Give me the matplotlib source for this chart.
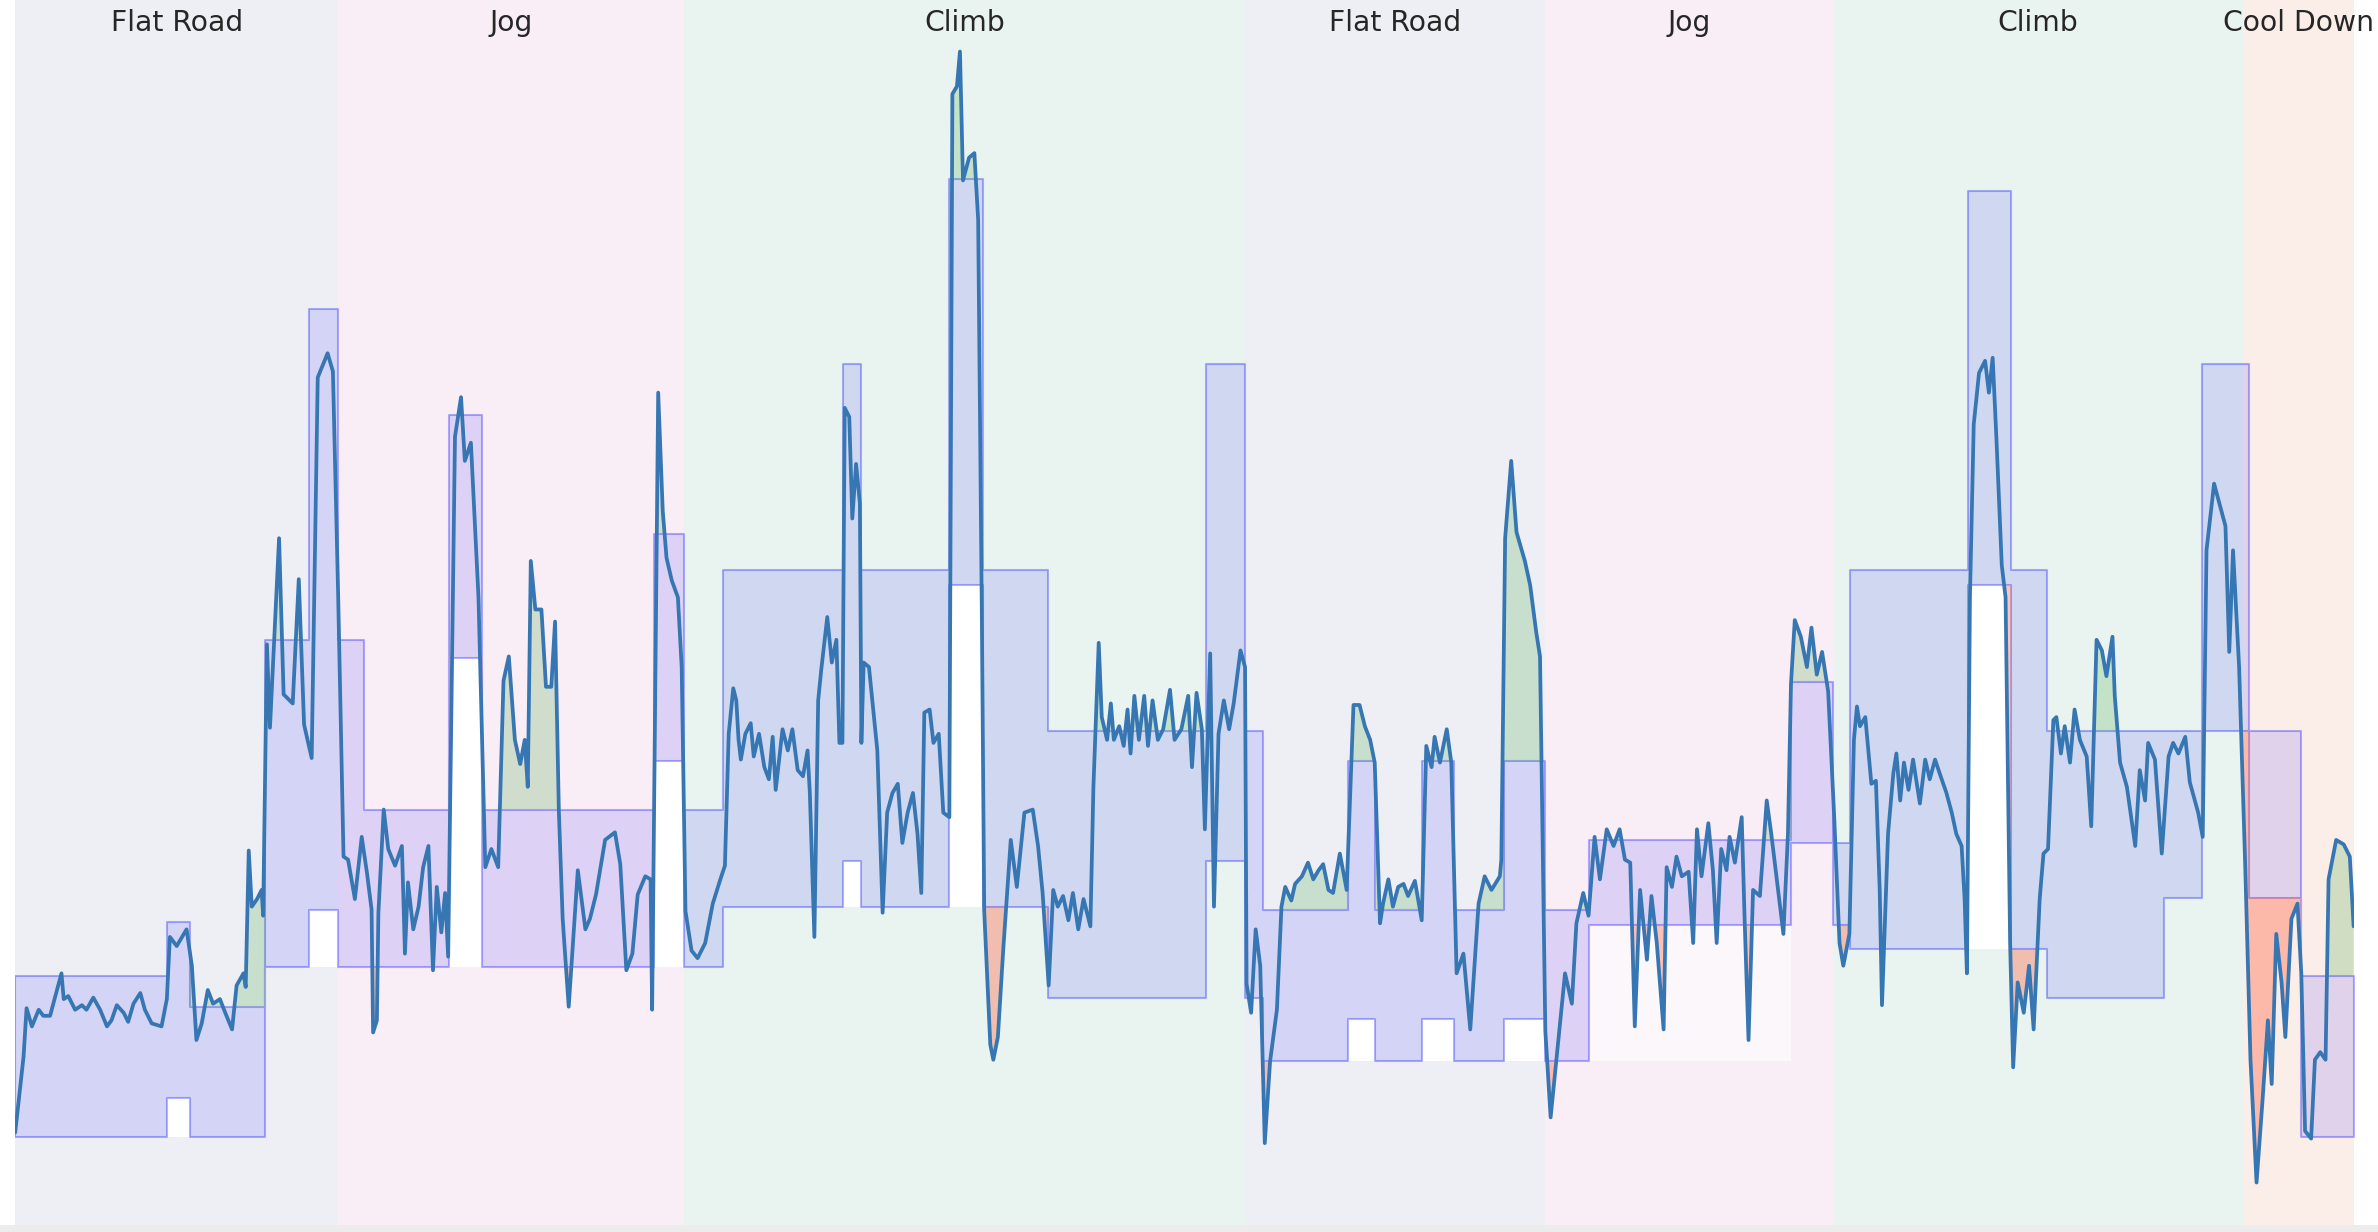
import numpy as np
import matplotlib
matplotlib.use("Agg")
import matplotlib.pyplot as plt
from matplotlib.patches import Rectangle

# ---------------- data ----------------
segment_names = ["Flat Road", "Jog", "Climb", "Flat Road", "Jog", "Climb", "Cool Down"]
segment_edges = [0, 426, 882, 1622, 2018, 2398, 2938, 3084]
segment_colors = {"Flat Road": "#eeeff5", "Jog": "#f9edf6",
                  "Climb": "#e9f3ef", "Cool Down": "#fbede8"}

# target power band (step function, seconds / watts)
target_start = [0, 200, 230, 330, 388, 426, 460, 572, 616, 842, 882, 934, 1092,
                1116, 1232, 1276, 1362, 1570, 1622, 1646, 1758, 1794, 1856, 1898,
                1964, 2018, 2076, 2342, 2398, 2420, 2576, 2632, 2680, 2834, 2884,
                2946, 3014]
target_end = 3084
target_upper = [132, 150, 122, 243, 352, 243, 187, 317, 187, 278, 187, 266, 334,
                266, 395, 266, 213, 334, 213, 154, 203, 154, 203, 154, 203, 154,
                177, 229, 176, 266, 391, 266, 213, 213, 334, 213, 132]
target_lower = [79, 92, 79, 135, 154, 135, 135, 237, 135, 203, 135, 155, 170,
                155, 261, 155, 125, 170, 125, 104, 118, 104, 118, 104, 118, 104,
                149, 176, 149, 141, 261, 141, 125, 158, 213, 158, 79]

# empty areas under raised target blocks (block index, floor watts, opacity)
gap_block = [1, 4, 7, 9, 12, 14, 20, 22, 24, 26, 30]
gap_floor = [79, 135, 135, 135, 155, 155, 104, 104, 104, 104, 141]
gap_opacity = [1, 1, 1, 1, 1, 1, 1, 1, 1, 0.6, 1]

# recorded power
time_s = [0, 11, 15, 22, 31, 37, 46, 53, 61, 64, 70, 79, 88, 94, 103, 112, 121,
          127, 134, 143, 149, 156, 165, 171, 180, 193, 200, 204, 213, 220, 226,
          233, 239, 246, 254, 261, 270, 277, 286, 292, 301, 304, 308, 312, 319,
          325, 327, 332, 336, 348, 354, 366, 374, 381, 391, 399, 412, 419, 426,
          433, 439, 448, 457, 464, 470, 472, 477, 479, 486, 492, 501, 510, 514,
          518, 525, 532, 538, 545, 551, 556, 562, 567, 571, 580, 588, 593, 601,
          611, 620, 628, 637, 644, 651, 659, 666, 672, 676, 680, 686, 694, 700,
          707, 712, 717, 722, 730, 742, 752, 758, 766, 778, 791, 798, 806, 814,
          821, 831, 838, 840, 844, 848, 854, 859, 866, 874, 879,
          884, 892, 900, 910, 920, 930, 936, 941, 947, 951, 954, 957, 963, 970,
          974, 981, 988, 994, 999, 1003, 1012, 1019, 1025, 1032, 1039, 1045,
          1048, 1054, 1059, 1063, 1071, 1077, 1083, 1087, 1091, 1094, 1100, 1104,
          1109, 1114, 1116, 1119, 1126, 1132, 1137, 1144, 1150, 1157, 1164, 1170,
          1177, 1184, 1190, 1195, 1199, 1206, 1211, 1218, 1224, 1232, 1236, 1242,
          1246, 1250, 1258, 1265, 1270, 1275, 1278, 1286, 1290, 1296, 1303, 1313,
          1321, 1331, 1342, 1349, 1355, 1363, 1369, 1375, 1382, 1389, 1395, 1402,
          1409, 1418, 1422, 1429, 1433, 1440, 1445, 1449, 1456, 1462, 1467, 1471,
          1476, 1482, 1489, 1494, 1500, 1507, 1514, 1523, 1529, 1538, 1547, 1552,
          1558, 1565, 1569, 1576, 1581, 1587, 1594, 1601, 1607, 1616, 1622,
          1624, 1630, 1636, 1642, 1648, 1655, 1664, 1670, 1675, 1683, 1688, 1697,
          1705, 1712, 1719, 1725, 1732, 1738, 1747, 1756, 1765, 1773, 1780, 1787,
          1793, 1800, 1804, 1811, 1817, 1824, 1831, 1837, 1846, 1855, 1861, 1868,
          1872, 1879, 1888, 1894, 1901, 1910, 1919, 1930, 1938, 1947, 1958, 1960,
          1965, 1973, 1980, 1991, 1998, 2006, 2011, 2018, 2025, 2033, 2044, 2053,
          2059, 2068, 2075,
          2083, 2090, 2099, 2108, 2116, 2123, 2130, 2136, 2143, 2152, 2158, 2165,
          2174, 2178, 2185, 2191, 2198, 2207, 2213, 2218, 2224, 2233, 2239, 2244,
          2250, 2257, 2261, 2268, 2277, 2281, 2286, 2292, 2301, 2310, 2316, 2325,
          2332, 2338, 2342, 2347, 2355, 2363, 2369, 2376, 2383, 2391, 2399, 2406,
          2411, 2419,
          2425, 2429, 2433, 2440, 2444, 2448, 2454, 2459, 2462, 2470, 2477, 2481,
          2486, 2491, 2497, 2503, 2512, 2519, 2525, 2532, 2538, 2547, 2554, 2560,
          2567, 2571, 2574, 2578, 2583, 2590, 2598, 2603, 2608, 2613, 2620, 2625,
          2631, 2635, 2641, 2649, 2656, 2662, 2670, 2675, 2681, 2688, 2692, 2698,
          2703, 2710, 2716, 2723, 2732, 2738, 2745, 2752, 2758, 2766, 2769, 2776,
          2785, 2796, 2802, 2809, 2813, 2822, 2831, 2840, 2846, 2853, 2862, 2868,
          2879, 2885,
          2890, 2900, 2907, 2915, 2920, 2925, 2933, 2941, 2948, 2956, 2964, 2971,
          2976, 2982, 2989, 2994, 3002, 3010, 3015, 3020, 3028, 3033, 3040, 3047,
          3051, 3061, 3071, 3079, 3084]
power_w = [80.5, 105.5, 121.5, 115.5, 121, 119, 119, 125.5, 133, 124.5, 125.5,
           121, 122.5, 121, 125, 121, 115.5, 117.5, 122.5, 120, 117, 123, 126.5,
           121, 116.5, 115.5, 124.5, 145, 142, 145, 147.5, 135.5, 111, 116.5,
           127.5, 123, 124.5, 120, 114.5, 129, 133, 128.5, 173.5, 155, 157.5,
           160.5, 152, 241.5, 214, 276.5, 225, 222, 263, 215, 204, 329.5, 337.5,
           331.5, 257,
           171.5, 170.5, 157.5, 178, 166, 154, 113.5, 117.5, 153, 187, 174,
           168.5, 175, 139.5, 163, 147.5, 155, 168, 175, 134, 161.5, 146.5,
           159.5, 138.5, 310, 323, 302, 308, 257, 168, 174, 168, 229.5, 237.5,
           210, 202, 210, 194.5, 269, 253, 253, 227.5, 227.5, 249, 186.5, 151,
           122, 167, 147.5, 151, 159, 177, 179.5, 169, 134, 139.5, 159, 165, 164,
           121, 221, 324.5, 285.5, 270, 262.5, 257, 234,
           153.5, 140.5, 138, 143, 156, 164, 168.5, 212, 227, 223, 210, 203.5,
           212, 215.5, 204.5, 212, 201, 197, 211, 193.5, 213.5, 206.5, 213.5,
           200, 198, 206.5, 192.5, 145, 223, 233, 250.5, 235.5, 243, 209, 209,
           319.5, 316.5, 283, 301, 288, 209, 235.5, 234, 219, 206.5, 153, 186,
           192.5, 195.5, 176, 186, 192.5, 179, 159.5, 219, 220, 209, 212, 186,
           184.5, 423, 425.5, 437, 394.5, 402, 403.5, 381.5, 247, 153.5, 109.5,
           104.5, 112, 140.5, 177, 161.5, 186, 187, 175, 159.5, 129, 160.5, 155,
           158.5, 150.5, 159.5, 147.5, 157.5, 148.5, 194.5, 242, 217.5, 210, 222,
           210, 214.5, 208, 220, 205.5, 224.5, 210, 224.5, 208, 223, 210, 213.5,
           226.5, 210, 213.5, 224.5, 201, 225.5, 213.5, 180.5, 238.5, 155, 212,
           223, 213.5, 222, 239.5, 234,
           129.5, 120, 147.5, 135.5, 77, 104, 121, 155, 161.5, 157, 162.5, 165,
           169.5, 164, 167, 169, 160.5, 159.5, 172.5, 160.5, 221.5, 221.5, 214.5,
           210, 202.5, 149.5, 156, 164, 155, 161.5, 162.5, 158.5, 163.5, 150.5,
           208, 201, 211, 202.5, 213.5, 202.5, 133, 139.5, 114.5, 156, 165,
           160.5, 165, 170.5, 276.5, 302, 278.5, 269, 261, 245.5, 237.5, 114,
           85.5, 105.5, 133, 123, 149.5, 159.5, 152,
           178, 164, 180.5, 175, 180.5, 170.5, 169.5, 115.5, 160.5, 137.5, 158.5,
           143, 114.5, 168, 161.5, 171.5, 165, 166.5, 143, 180.5, 165, 182.5,
           167, 143, 174, 167, 178, 169.5, 184.5, 149.5, 111, 160.5, 158.5, 190,
           179, 160.5, 146, 179, 228.5, 249.5, 244, 234, 247, 231.5, 239, 226,
           184.5, 143, 135.5, 146,
           210, 221, 214.5, 217.5, 206.5, 195.5, 196.5, 160.5, 122.5, 179, 199,
           205.5, 190, 202.5, 193.5, 203.5, 189, 203.5, 197, 203.5, 199, 192.5,
           186, 179, 175, 157.5, 133, 257, 314, 331, 335, 324.5, 336, 309, 267.5,
           257, 143, 102, 130, 120, 135.5, 114.5, 157.5, 172.5, 174, 216.5,
           217.5, 205.5, 214.5, 202.5, 220, 210, 204.5, 181.5, 243, 239.5, 231,
           244, 224.5, 202.5, 194.5, 175, 200, 190, 209, 203.5, 172.5, 204.5,
           209, 205.5, 211, 196, 186, 178,
           272.5, 294.5, 288, 280.5, 239, 272.5, 234, 169, 104.5, 64, 91.5, 117.5,
           96.5, 146, 130, 112, 151, 156, 133, 81, 78.5, 104.5, 107, 104.5, 164,
           177, 175.5, 171.5, 148.5]

# ---------------- figure ----------------
W, H = 2378, 1232
fig = plt.figure(figsize=(W / 100, H / 100), dpi=100)
fig.patch.set_facecolor("white")
ax = fig.add_axes([15.2 / W, 7 / H, 2338.4 / W, 1225 / H])
ax.set_xlim(0, target_end)
ax.set_ylim(50, 454)
ax.axis("off")

# segment backgrounds + labels
for i, name in enumerate(segment_names):
    a, b = segment_edges[i], segment_edges[i + 1]
    ax.axvspan(a, b, color=segment_colors[name], lw=0, zorder=0)
    ax.text((a + b) / 2, 443.8, name, ha="center", va="baseline",
            fontsize=20.3, color="#262626", zorder=6)

edges = np.array(target_start + [target_end], float)
up = np.array(target_upper, float)
lo = np.array(target_lower, float)

# empty areas under raised blocks
for i, g, a in zip(gap_block, gap_floor, gap_opacity):
    ax.fill_between([edges[i], edges[i + 1]], [g, g], [lo[i], lo[i]],
                    color="white", alpha=a, lw=0, zorder=0.5)

# target band
ax.fill_between(edges, np.r_[up, up[-1]], np.r_[lo, lo[-1]], step="post",
                facecolor=(0.0, 0.0, 1.0, 0.11), edgecolor=(0.0, 0.0, 1.0, 0.3),
                linewidth=1.5, zorder=1)

# combined grid for over / under fills
t = np.array(time_s, float)
p = np.array(power_w, float)
inner = set(edges[1:-1].tolist())
xs, ps, us, ls = [], [], [], []
for x in sorted(set(t.tolist()) | inner):
    px = float(np.interp(x, t, p))
    if x in inner:
        k = int(np.searchsorted(edges, x))
        xs += [x, x]; ps += [px, px]
        us += [up[k - 1], up[k]]; ls += [lo[k - 1], lo[k]]
    else:
        k = int(np.searchsorted(edges, x, side="right")) - 1
        k = min(max(k, 0), len(up) - 1)
        xs.append(x); ps.append(px); us.append(up[k]); ls.append(lo[k])
xs, ps, us, ls = map(np.array, (xs, ps, us, ls))

ax.fill_between(xs, ps, us, where=ps > us, interpolate=True,
                color="#2ca02c", alpha=0.2, lw=0, zorder=2)
ax.fill_between(xs, ps, ls, where=ps < ls, interpolate=True,
                color="#ff5a36", alpha=0.35, lw=0, zorder=2)

# power trace
ax.plot(t, p, color="#3676b2", lw=2.7, solid_joinstyle="round",
        solid_capstyle="round", zorder=3)

# thin grey strip at the bottom edge
fig.patches.append(Rectangle((0, 0), 1, 7 / H, transform=fig.transFigure,
                             facecolor="#ececec", edgecolor="none", zorder=10))

fig.savefig("out.png", dpi=100)
